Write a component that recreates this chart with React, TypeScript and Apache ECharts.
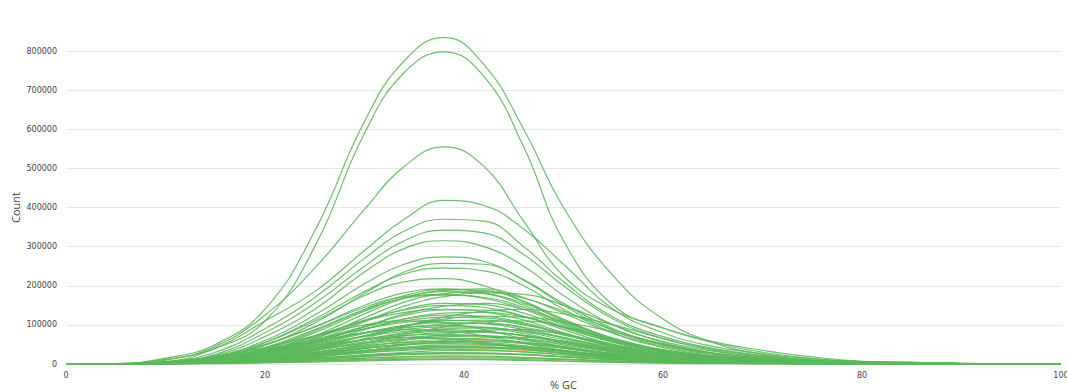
import React, { useEffect, useRef } from "react";
import * as echarts from "echarts";

// % GC sample positions
const gcPercent = [0, 5, 10, 15, 20, 25, 30, 34, 38, 42, 46, 50, 55, 60, 65, 70, 75, 80, 85, 90, 100];

// Counts in thousands, one row per sample
const largestSamples = [
  [0, 1, 15, 50, 140, 340, 620, 775, 835, 765, 600, 400, 225, 115, 55, 25, 10, 4, 3, 1, 0],
  [0, 1, 12, 40, 110, 300, 590, 745, 798, 735, 555, 315, 150, 92, 55, 30, 14, 6, 4, 1, 0],
  [0, 0.5, 10, 45, 125, 245, 395, 505, 555, 505, 365, 225, 138, 92, 57, 35, 18, 7, 4, 1.5, 0],
  [0, 0.5, 6, 40, 110, 185, 290, 370, 418, 405, 345, 255, 140, 80, 45, 26, 13, 6, 4, 1.5, 0],
  [0, 0.5, 6, 30, 90, 170, 270, 340, 370, 365, 300, 210, 120, 70, 40, 22, 10, 5, 3, 1, 0],
  [0, 0.5, 5, 25, 80, 155, 250, 315, 342, 335, 280, 200, 115, 65, 38, 20, 9, 4, 3, 1, 0],
  [0, 0.5, 5, 22, 70, 140, 235, 295, 315, 300, 250, 175, 100, 58, 33, 18, 8, 4, 2, 1, 0],
  [0, 0.5, 4, 20, 60, 125, 205, 255, 274, 262, 215, 150, 85, 48, 28, 15, 7, 3, 2, 1, 0],
  [0, 0.3, 3, 15, 48, 105, 180, 235, 257, 255, 215, 155, 90, 50, 28, 15, 7, 3, 2, 1, 0],
  [0, 0.3, 4, 18, 55, 115, 185, 230, 245, 238, 200, 140, 80, 45, 25, 14, 6, 3, 2, 1, 0],
  [0, 0.3, 4, 18, 55, 110, 175, 210, 218, 200, 160, 110, 62, 35, 20, 11, 5, 2, 2, 1, 0],
];

const middleSamples = [
  [0, 0.3, 3, 14, 42, 88, 140, 175, 190, 188, 160, 115, 65, 35, 20, 11, 5, 2, 2, 1, 0],
  [0, 0.3, 3, 16, 48, 95, 150, 182, 192, 182, 150, 105, 60, 33, 18, 10, 5, 2, 2, 1, 0],
  [0, 0.2, 2, 10, 32, 72, 128, 168, 188, 192, 170, 130, 78, 42, 22, 12, 5, 2, 2, 1, 0],
  [0, 0.3, 3, 12, 38, 80, 135, 170, 185, 180, 155, 112, 64, 36, 20, 11, 5, 2, 2, 1, 0],
  [0, 0.2, 2, 10, 30, 66, 118, 158, 180, 185, 168, 135, 88, 50, 26, 13, 6, 2, 2, 1, 0],
  [0, 0.3, 4, 18, 50, 95, 145, 172, 178, 168, 140, 100, 58, 32, 18, 10, 5, 2, 2, 1, 0],
  [0, 0.2, 2, 9, 28, 60, 108, 148, 172, 182, 178, 150, 100, 55, 28, 14, 6, 3, 2, 1, 0],
  [0, 0.3, 3, 13, 40, 84, 138, 168, 176, 170, 145, 104, 60, 34, 19, 10, 5, 2, 2, 1, 0],
  [0, 0.2, 2, 10, 30, 65, 110, 140, 155, 152, 130, 95, 55, 30, 17, 9, 4, 2, 2, 1, 0],
  [0, 0.2, 3, 12, 34, 70, 112, 138, 150, 145, 122, 88, 50, 28, 16, 9, 4, 2, 2, 1, 0],
  [0, 0.2, 2, 8, 25, 55, 95, 128, 148, 155, 140, 108, 66, 36, 19, 10, 5, 2, 2, 1, 0],
  [0, 0.3, 3, 12, 36, 72, 110, 132, 140, 134, 112, 80, 46, 26, 15, 8, 4, 2, 2, 1, 0],
  [0, 0.2, 2, 9, 26, 56, 96, 124, 138, 138, 122, 92, 56, 31, 17, 9, 4, 2, 2, 1, 0],
  [0, 0.2, 2, 8, 24, 50, 88, 115, 130, 132, 120, 95, 62, 36, 19, 10, 5, 2, 2, 1, 0],
  [0, 0.1, 1, 5, 15, 35, 65, 95, 120, 135, 140, 128, 100, 65, 35, 17, 8, 3, 2, 1, 0],
  [0, 0.1, 1, 6, 18, 40, 72, 98, 115, 122, 120, 108, 82, 52, 28, 14, 6, 3, 2, 1, 0],
];

const smallSamples = [
  [0, 0.3, 4, 14, 35, 62, 95, 115, 125, 122, 105, 78, 45, 25, 14, 8, 4, 2, 2, 1, 0],
  [0, 0.3, 3, 12, 30, 58, 90, 110, 120, 118, 102, 76, 44, 24, 13, 7, 4, 2, 2, 1, 0],
  [0, 0.4, 4, 15, 36, 62, 90, 106, 112, 108, 92, 68, 40, 22, 12, 7, 3, 2, 2, 1, 0],
  [0, 0.2, 2, 9, 24, 48, 78, 98, 110, 112, 100, 78, 48, 27, 14, 8, 4, 2, 2, 1, 0],
  [0, 0.3, 3, 11, 28, 52, 80, 98, 106, 103, 88, 66, 38, 21, 12, 6, 3, 2, 1, 1, 0],
  [0, 0.2, 2, 8, 22, 44, 72, 92, 102, 104, 94, 74, 46, 26, 14, 7, 3, 2, 1, 1, 0],
  [0, 0.3, 3, 12, 30, 54, 80, 94, 98, 93, 78, 57, 33, 18, 10, 6, 3, 2, 1, 1, 0],
  [0, 0.2, 2, 9, 24, 46, 72, 88, 95, 94, 82, 62, 37, 20, 11, 6, 3, 2, 1, 1, 0],
  [0, 0.2, 2, 7, 19, 38, 62, 80, 90, 92, 84, 67, 42, 24, 13, 7, 3, 2, 1, 1, 0],
  [0, 0.3, 3, 10, 26, 47, 70, 83, 88, 84, 72, 53, 31, 17, 10, 5, 3, 1, 1, 0.5, 0],
  [0, 0.2, 2, 8, 21, 40, 63, 77, 84, 83, 73, 56, 34, 19, 10, 6, 3, 1, 1, 0.5, 0],
  [0, 0.2, 2, 7, 18, 35, 57, 72, 80, 81, 73, 58, 36, 20, 11, 6, 3, 1, 1, 0.5, 0],
  [0, 0.3, 3, 10, 24, 42, 62, 73, 76, 72, 61, 45, 26, 15, 8, 5, 2, 1, 1, 0.5, 0],
  [0, 0.2, 2, 7, 18, 34, 54, 67, 73, 72, 64, 49, 30, 17, 9, 5, 2, 1, 1, 0.5, 0],
  [0, 0.2, 2, 6, 15, 30, 49, 62, 70, 71, 65, 52, 33, 19, 10, 5, 2, 1, 1, 0.5, 0],
  [0, 0.2, 2, 8, 20, 36, 53, 63, 66, 63, 54, 40, 24, 13, 7, 4, 2, 1, 1, 0.5, 0],
  [0, 0.2, 2, 6, 15, 28, 45, 56, 62, 62, 56, 44, 27, 15, 8, 4, 2, 1, 1, 0.5, 0],
  [0, 0.2, 2, 7, 17, 31, 46, 55, 58, 55, 47, 35, 21, 12, 7, 4, 2, 1, 1, 0.5, 0],
  [0, 0.1, 1, 5, 12, 24, 39, 50, 56, 57, 52, 41, 26, 15, 8, 4, 2, 1, 1, 0.5, 0],
  [0, 0.2, 2, 6, 15, 27, 41, 49, 52, 50, 43, 32, 19, 11, 6, 3, 2, 1, 1, 0.5, 0],
  [0, 0.1, 1, 4, 11, 21, 34, 43, 48, 48, 43, 34, 21, 12, 7, 4, 2, 1, 1, 0.5, 0],
  [0, 0.2, 2, 5, 13, 23, 35, 42, 45, 43, 37, 28, 17, 10, 5, 3, 1, 1, 1, 0.5, 0],
  [0, 0.1, 1, 4, 9, 18, 29, 37, 41, 41, 37, 29, 18, 10, 6, 3, 1, 1, 1, 0.5, 0],
  [0, 0.1, 1, 4, 10, 19, 29, 35, 38, 36, 31, 23, 14, 8, 4, 2, 1, 1, 0.5, 0.3, 0],
  [0, 0.1, 1, 3, 8, 15, 24, 30, 34, 34, 31, 24, 15, 9, 5, 2, 1, 1, 0.5, 0.3, 0],
  [0, 0.1, 1, 3, 8, 15, 22, 27, 29, 28, 24, 18, 11, 6, 3, 2, 1, 0.5, 0.5, 0.3, 0],
  [0, 0.1, 1, 2, 6, 12, 19, 24, 26, 26, 23, 18, 11, 6, 3, 2, 1, 0.5, 0.5, 0.3, 0],
  [0, 0.1, 1, 2, 5, 10, 15, 19, 21, 20, 17, 13, 8, 4, 2, 1, 1, 0.5, 0.3, 0.2, 0],
  [0, 0.1, 0.5, 2, 4, 8, 12, 15, 16, 16, 14, 11, 7, 4, 2, 1, 0.5, 0.3, 0.3, 0.2, 0],
  [0, 0.1, 0.5, 1, 3, 5, 8, 10, 11, 11, 9, 7, 4, 2, 1, 1, 0.5, 0.3, 0.2, 0.1, 0],
  [0, 0.4, 5, 18, 42, 72, 100, 110, 105, 88, 64, 42, 22, 12, 7, 4, 2, 1, 1, 0.5, 0],
  [0, 0.3, 4, 14, 34, 58, 80, 88, 85, 72, 53, 35, 19, 10, 6, 3, 2, 1, 1, 0.5, 0],
  [0, 0.3, 3, 11, 27, 46, 62, 68, 65, 55, 40, 27, 15, 8, 5, 3, 1, 1, 0.5, 0.3, 0],
  [0, 0.1, 1, 4, 12, 28, 52, 75, 95, 108, 110, 95, 62, 34, 17, 8, 4, 2, 1, 0.5, 0],
  [0, 0.1, 1, 3, 9, 22, 42, 60, 76, 86, 88, 76, 50, 28, 14, 7, 3, 1, 1, 0.5, 0],
  [0, 0.1, 1, 3, 8, 18, 34, 48, 60, 67, 68, 58, 38, 21, 11, 6, 3, 1, 1, 0.5, 0],
  [0, 0.2, 2, 6, 14, 26, 40, 50, 55, 52, 44, 33, 20, 11, 6, 3, 2, 1, 1, 0.5, 0],
  [0, 0.1, 1, 4, 10, 20, 32, 40, 44, 44, 40, 31, 19, 11, 6, 3, 1, 1, 0.5, 0.3, 0],
  [0, 0.1, 1, 3, 7, 13, 20, 25, 28, 28, 25, 19, 12, 7, 4, 2, 1, 0.5, 0.5, 0.3, 0],
  [0, 0.1, 0.5, 2, 4, 7, 10, 12, 13, 13, 11, 8, 5, 3, 2, 1, 0.5, 0.3, 0.2, 0.1, 0],
];

// samples flagged as warnings (orange), drawn underneath
const warnSamples = [
  [0, 0.1, 1, 4, 11, 24, 40, 52, 58, 60, 55, 43, 26, 14, 7, 4, 2, 1, 1, 0.5, 0],
  [0, 0.1, 1, 3, 9, 20, 32, 38, 41, 40, 35, 27, 17, 9, 5, 3, 1, 1, 0.5, 0.3, 0],
  [0, 0.1, 0.5, 2, 5, 10, 15, 18, 19, 19, 16, 12, 7, 4, 2, 1, 0.5, 0.3, 0.2, 0.1, 0],
];

const yTicks = [0, 100000, 200000, 300000, 400000, 500000, 600000, 700000, 800000];
const xTicks = [0, 20, 40, 60, 80, 100];

const UNIT = 1000;
const PASS = "#5cb85c";
const WARN = "#f0ad4e";

function makeSeries(rows: number[][], color: string, z: number) {
  return rows.map((row) => ({
    type: "line",
    data: row.map((v, i) => [gcPercent[i], v * UNIT]),
    smooth: 0.45,
    showSymbol: false,
    symbol: "none",
    clip: false,
    silent: true,
    z,
    lineStyle: { color, width: 1.2, opacity: 0.9 },
  }));
}

export default function App() {
  const ref = useRef<HTMLDivElement>(null);
  useEffect(() => {
    if (!ref.current) return;
    const chart = echarts.init(ref.current, null, { renderer: "svg" });
    chart.setOption({
      animation: false,
      backgroundColor: "#ffffff",
      grid: { left: 66, right: 6, top: 51, bottom: 28, outerBoundsMode: "none", containLabel: false },
      xAxis: {
        type: "value",
        min: xTicks[0],
        max: xTicks[xTicks.length - 1],
        interval: 20,
        name: "% GC",
        nameLocation: "middle",
        nameGap: 15,
        nameMoveOverlap: false,
        nameTextStyle: { fontSize: 11, color: "#444", fontFamily: "Open Sans" },
        axisLine: { show: false },
        axisTick: { show: false },
        splitLine: { show: false },
        axisLabel: {
          fontSize: 8,
          color: "#444",
          margin: 7,
          fontFamily: "DejaVu Sans",
          formatter: (v: number) => String(v),
        },
      },
      yAxis: {
        type: "value",
        min: yTicks[0],
        max: yTicks[yTicks.length - 1],
        interval: 100000,
        name: "Count",
        nameLocation: "middle",
        nameGap: 45,
        nameMoveOverlap: false,
        nameTextStyle: { fontSize: 11, color: "#444", fontFamily: "Open Sans" },
        axisLine: { show: false },
        axisTick: { show: false },
        splitLine: { lineStyle: { color: "#e6e6e6", width: 1 } },
        axisLabel: {
          fontSize: 8,
          color: "#444",
          margin: 9,
          fontFamily: "DejaVu Sans",
          formatter: (v: number) => String(v),
        },
      },
      series: [
        ...makeSeries(warnSamples, WARN, 1),
        ...makeSeries(smallSamples, PASS, 2),
        ...makeSeries(middleSamples, PASS, 3),
        ...makeSeries(largestSamples, PASS, 4),
      ],
    });
    return () => chart.dispose();
  }, []);
  return (
    <div
      ref={ref}
      style={{ position: "fixed", left: 0, top: 0, width: 1067, height: 392 }}
    />
  );
}
